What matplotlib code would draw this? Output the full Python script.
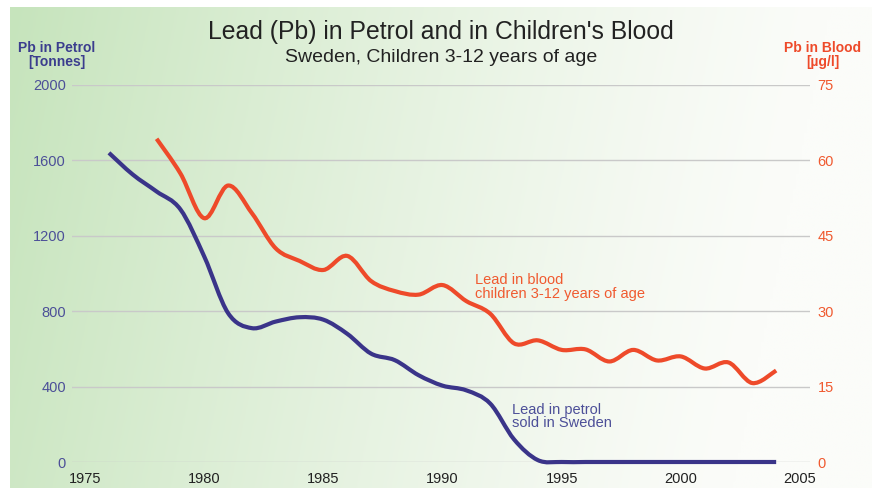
import numpy as np
import matplotlib
matplotlib.use("Agg")
import matplotlib.pyplot as plt
from matplotlib.path import Path
from matplotlib.patches import PathPatch

# data
petrol_years = [1976, 1977, 1978, 1979, 1980, 1981, 1982, 1983, 1984, 1985,
                1986, 1987, 1988, 1989, 1990, 1991, 1992, 1993, 1994, 1995,
                1996, 1997, 1998, 1999, 2000, 2001, 2002, 2003, 2004]
petrol_tonnes = [1640, 1525, 1435, 1340, 1090, 790, 710, 745, 768, 755,
                 680, 575, 540, 460, 405, 380, 310, 120, 10, 0,
                 0, 0, 0, 0, 0, 0, 0, 0, 0]

blood_years = [1978, 1979, 1980, 1981, 1982, 1983, 1984, 1985, 1986, 1987,
               1988, 1989, 1990, 1991, 1992, 1993, 1994, 1995, 1996, 1997,
               1998, 1999, 2000, 2001, 2002, 2003, 2004]
blood_ugl = [64.3, 57.4, 48.5, 55.0, 49.5, 42.5, 40.0, 38.2, 41.0, 36.0,
             34.0, 33.3, 35.2, 32.0, 29.5, 23.6, 24.2, 22.3, 22.4, 20.0,
             22.3, 20.2, 21.0, 18.6, 19.8, 15.7, 18.2]

x_ticks = [1975, 1980, 1985, 1990, 1995, 2000, 2005]
left_ticks = [0, 400, 800, 1200, 1600, 2000]
right_ticks = [0, 15, 30, 45, 60, 75]

BLUE = "#3a3489"
RED = "#ee4a2a"
BLUE_TXT = "#4c4f98"
RED_TXT = "#f05a30"


def smooth_path(xs, ys):
    # Catmull-Rom through the points, as cubic bezier segments
    xs = np.asarray(xs, float)
    ys = np.asarray(ys, float)
    pts = np.column_stack([xs, ys])
    verts = [pts[0]]
    codes = [Path.MOVETO]
    n = len(pts)
    for i in range(n - 1):
        p0 = pts[max(i - 1, 0)]
        p1 = pts[i]
        p2 = pts[i + 1]
        p3 = pts[min(i + 2, n - 1)]
        c1 = p1 + (p2 - p0) / 6.0
        c2 = p2 - (p3 - p1) / 6.0
        verts += [c1, c2, p2]
        codes += [Path.CURVE4] * 3
    return Path(verts, codes)


W, H = 877, 495
fig = plt.figure(figsize=(W / 100, H / 100), dpi=100)
fig.patch.set_facecolor("white")

# green gradient background panel
bg = fig.add_axes([10 / W, 7 / H, 862 / W, 481 / H])
bg.axis("off")
gx = np.linspace(0, 1, 300)
gy = np.linspace(0, 1, 200)
GX, GY = np.meshgrid(gx, gy)
w = np.clip(1 - (GX * 1.05 + GY * 0.12), 0, 1) ** 1.25
green = np.array([198, 228, 188]) / 255
white = np.array([251, 252, 249]) / 255
img = white[None, None, :] * (1 - w[..., None]) + green[None, None, :] * w[..., None]
bg.imshow(img, aspect="auto", extent=[0, 1, 0, 1], origin="upper")
bg.set_zorder(0)

ax = fig.add_axes([72 / W, 33 / H, 738 / W, 377 / H])
ax.set_zorder(1)
ax.patch.set_alpha(0)
ax.set_xlim(1974.45, 2005.42)
ax.set_ylim(0, 2000)
ax2 = ax.twinx()
ax2.set_ylim(0, 75)
ax2.set_zorder(2)

for a in (ax, ax2):
    for s in a.spines.values():
        s.set_visible(False)

ax.set_yticks(left_ticks)
ax.set_xticks(x_ticks)
ax2.set_yticks(right_ticks)
ax.tick_params(axis="y", length=0, pad=4.5, labelsize=10.5, labelcolor=BLUE_TXT)
ax.tick_params(axis="x", length=0, pad=7.5, labelsize=10.5, labelcolor="#222222")
ax2.tick_params(axis="y", length=0, pad=5.5, labelsize=10.5, labelcolor=RED_TXT)
for lab in ax.get_xticklabels() + ax.get_yticklabels() + ax2.get_yticklabels():
    lab.set_family("Liberation Sans")

ax.grid(axis="y", color="#c9c9c9", linewidth=1.0)
ax.set_axisbelow(True)

ax.add_patch(PathPatch(smooth_path(petrol_years, petrol_tonnes), fill=False,
                       edgecolor=BLUE, linewidth=3.0, capstyle="butt",
                       clip_on=False, zorder=3))
ax2.add_patch(PathPatch(smooth_path(blood_years, blood_ugl), fill=False,
                        edgecolor=RED, linewidth=3.0, capstyle="butt",
                        clip_on=False, zorder=3))

ax.text(1991.37, 1000, "Lead in blood\nchildren 3-12 years of age", color=RED_TXT,
        fontsize=10.5, family="Liberation Sans", va="top", ha="left",
        linespacing=0.95, zorder=4)
ax.text(1992.92, 315, "Lead in petrol\nsold in Sweden", color=BLUE_TXT,
        fontsize=10.5, family="Liberation Sans", va="top", ha="left",
        linespacing=0.95, zorder=4)

title_font = ["Liberation Sans Narrow", "Liberation Sans"]
fig.text(441 / W, 1 - 32 / H, "Lead (Pb) in Petrol and in Children's Blood",
         ha="center", va="center", fontsize=17.8, color="#222222", family=title_font)
fig.text(441 / W, 1 - 57 / H, "Sweden, Children 3-12 years of age",
         ha="center", va="center", fontsize=14, color="#222222", family=title_font)

fig.text(57 / W, 1 - 55 / H, "Pb in Petrol\n[Tonnes]", ha="center", va="center",
         fontsize=10, fontweight="bold", color="#3b3d8e", linespacing=1.0,
         family=title_font)
fig.text(823 / W, 1 - 55 / H, "Pb in Blood\n[µg/l]", ha="center", va="center",
         fontsize=10, fontweight="bold", color="#ee4a2a", linespacing=1.0,
         family=title_font)

fig.savefig("out.png", dpi=100)
